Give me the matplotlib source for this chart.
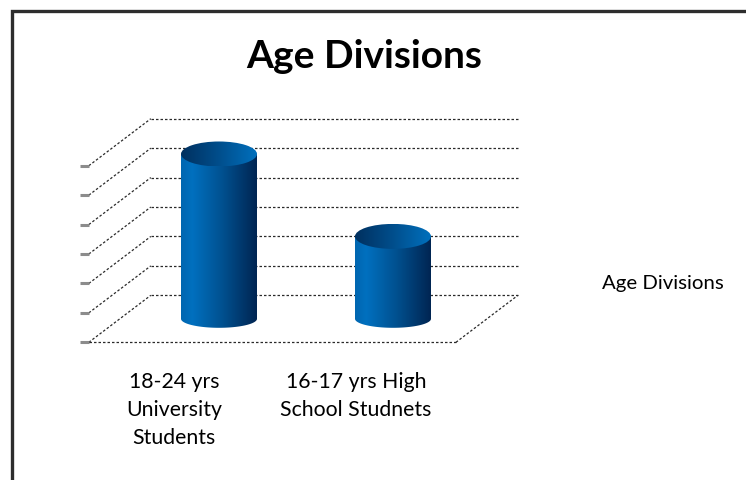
import numpy as np
import matplotlib
matplotlib.use("Agg")
import matplotlib.pyplot as plt
from matplotlib.patches import Ellipse, PathPatch
from matplotlib.path import Path
from matplotlib.colors import LinearSegmentedColormap
from matplotlib.lines import Line2D

# ---------------- data ----------------
title = "Age Divisions"
series_name = "Age Divisions"
categories = ["18-24 yrs\nUniversity\nStudents", "16-17 yrs High\nSchool Studnets"]
values = [56, 28]
y_ticks = [0, 10, 20, 30, 40, 50, 60]

# ---------------- layout ----------------
W, H, DPI = 746, 480, 100
FONT = "Lato"
fig = plt.figure(figsize=(W / DPI, H / DPI), dpi=DPI)
fig.patch.set_facecolor("white")
ax = fig.add_axes([0, 0, 1, 1])
ax.set_axis_off()

cat0_px, cat_step_px = 188.0, 174.0      # front-plane x of category 0, spacing
y0_px, unit_px = 342.3, 2.943            # front-plane y (from top) of value 0, px per unit
dx_px, dy_px = 62.0, 47.0                # oblique depth offset
xmin = -cat0_px / cat_step_px
xmax = (W - cat0_px) / cat_step_px
ymin = -(H - y0_px) / unit_px
ymax = y0_px / unit_px
DX = dx_px / cat_step_px
DY = dy_px / unit_px
X0, X1 = -0.57, 1.54                     # floor extent (category units)
label_step = 182.0 / cat_step_px
label_shift = -14.0 / cat_step_px


def P(x, v, d):
    return x + DX * d, v + DY * d


grid_kw = dict(color="#2a2a2a", lw=0.9, linestyle=(0, (2.0, 1.6)), zorder=1)
for v in y_ticks:
    (ax_, ay_), (bx_, by_) = P(X0, v, 1), P(X1, v, 1)
    ax.plot([ax_, bx_], [ay_, by_], **grid_kw)
    (ax_, ay_), (bx_, by_) = P(X0, v, 0), P(X0, v, 1)
    ax.plot([ax_, bx_], [ay_, by_], **grid_kw)
    ax.plot([X0 - 0.052, X0], [v, v], color="#8c8c8c", lw=2.2, solid_capstyle="butt", zorder=1)
# floor
(ax_, ay_), (bx_, by_) = P(X0, 0, 0), P(X1, 0, 0)
ax.plot([ax_, bx_], [ay_, by_], **grid_kw)
(ax_, ay_), (bx_, by_) = P(X1, 0, 0), P(X1, 0, 1)
ax.plot([ax_, bx_], [ay_, by_], **grid_kw)

side_cmap = LinearSegmentedColormap.from_list(
    "side", [(0.0, "#0066b0"), (0.15, "#0070bf"), (0.55, "#00508f"), (1.0, "#002552")])
top_cmap = LinearSegmentedColormap.from_list(
    "top", [(0.0, "#00305f"), (0.5, "#004e8c"), (1.0, "#0070bd")])
grad = np.linspace(0, 1, 256).reshape(1, -1)

rx = 38.0 / cat_step_px
ry_top = 12.5 / unit_px
ry_bot = 9.0 / unit_px
for i, val in enumerate(values):
    cx, base = P(i, 0, 0.5)
    top = base + val
    t = np.linspace(np.pi, 2 * np.pi, 80)
    verts = list(zip(cx + rx * np.cos(t), base + ry_bot * np.sin(t)))
    verts += [(cx + rx, top), (cx - rx, top), (cx - rx, base)]
    codes = [Path.MOVETO] + [Path.LINETO] * (len(verts) - 2) + [Path.CLOSEPOLY]
    side = PathPatch(Path(verts, codes), facecolor="none", edgecolor="none", zorder=3)
    ax.add_patch(side)
    im = ax.imshow(grad, cmap=side_cmap, extent=[cx - rx, cx + rx, base - ry_bot, top],
                   aspect="auto", interpolation="bilinear", zorder=3)
    im.set_clip_path(side)
    ell = Ellipse((cx, top), 2 * rx, 2 * ry_top, facecolor="none", edgecolor="none", zorder=4)
    ax.add_patch(ell)
    im2 = ax.imshow(grad, cmap=top_cmap, extent=[cx - rx, cx + rx, top - ry_top, top + ry_top],
                    aspect="auto", interpolation="bilinear", zorder=4)
    im2.set_clip_path(ell)

    ax.text(i * label_step + label_shift, -10.0, categories[i], ha="center", va="top",
            fontsize=15.3, family=FONT, linespacing=1.5, color="black")

ax.set_xlim(xmin, xmax)
ax.set_ylim(ymin, ymax)

fig.text(364 / W, 1 - 56 / H, title, ha="center", va="center", fontsize=28,
         fontweight="bold", family=FONT, color="black")
fig.text(663 / W, 1 - 283 / H, series_name, ha="center", va="center", fontsize=14.7,
         family=FONT, color="black")

# outer frame (top and left edges visible)
fig.add_artist(Line2D([11.5 / W, 11.5 / W, 1.0], [0.0, 1 - 10.5 / H, 1 - 10.5 / H],
                      transform=fig.transFigure, color="#2d2d2d", lw=2.4,
                      solid_joinstyle="miter"))

fig.savefig("out.png", dpi=DPI, facecolor="white")
